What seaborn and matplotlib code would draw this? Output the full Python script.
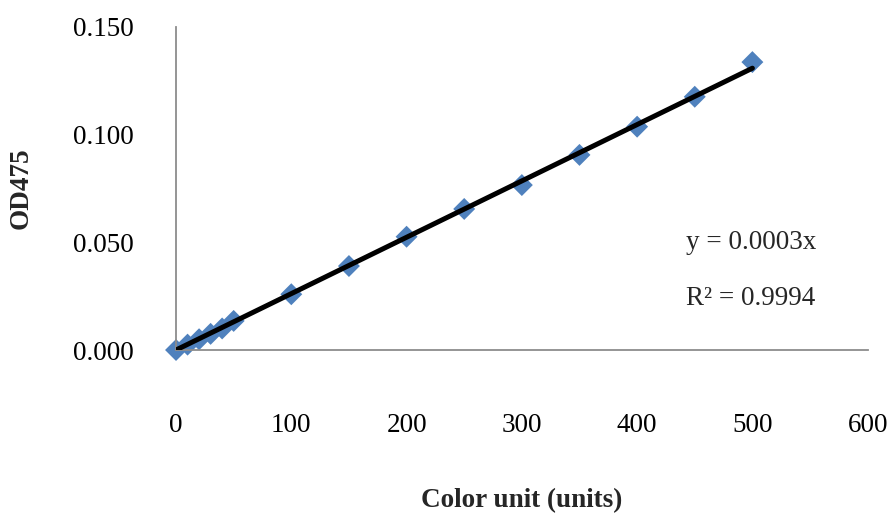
import numpy as np
import pandas as pd
import matplotlib
matplotlib.use("Agg")
import matplotlib.pyplot as plt
import seaborn as sns

# Data
color_units = [0, 10, 20, 30, 40, 50, 100, 150, 200, 250, 300, 350, 400, 450, 500]
od475 = [0.000, 0.0025, 0.005, 0.0075, 0.010, 0.0135, 0.0259, 0.0390, 0.0526,
         0.0655, 0.0766, 0.0906, 0.1037, 0.1176, 0.1337]
x_ticks = [0, 100, 200, 300, 400, 500, 600]
y_ticks = [0.000, 0.050, 0.100, 0.150]
eq_text = "y = 0.0003x"
r2_text = "R² = 0.9994"

sns.set_theme(style="white")
plt.rcParams['font.family'] = ['Liberation Serif', 'DejaVu Serif']

df = pd.DataFrame({"x": color_units, "y": od475})

# Linear trendline through origin (least squares)
xa = np.array(color_units, dtype=float)
ya = np.array(od475, dtype=float)
slope = (xa * ya).sum() / (xa * xa).sum()
trend = pd.DataFrame({"x": [0, max(color_units)], "y": [0, slope * max(color_units)]})

fig = plt.figure(figsize=(8.89, 5.16), dpi=100)
ax = fig.add_axes([0.198, 0.3217, 0.778, 0.626])

sns.scatterplot(data=df, x="x", y="y", marker="D", s=125, color="#4F81BD",
                edgecolor="none", ax=ax, zorder=2, clip_on=False)
sns.lineplot(data=trend, x="x", y="y", color="black", linewidth=3.6, ax=ax,
             zorder=3)

ax.set_xlim(0, 600)
ax.set_ylim(0, 0.150)
ax.set_xticks(x_ticks)
ax.set_yticks(y_ticks)
ax.set_xticklabels([str(t) for t in x_ticks])
ax.set_yticklabels([f"{t:.3f}" for t in y_ticks])

for s in ["top", "right"]:
    ax.spines[s].set_visible(False)
for s in ["left", "bottom"]:
    ax.spines[s].set_color("#8c8c8c")
    ax.spines[s].set_linewidth(1.3)

fs = 19.5
ax.tick_params(axis="both", which="major", direction="out", length=9.5,
               width=1.3, color="#8c8c8c", labelsize=fs, labelcolor="black")
ax.tick_params(axis="x", pad=36)
ax.tick_params(axis="y", pad=21)

ax.set_xlabel("Color unit (units)", fontsize=fs, fontweight="bold", labelpad=36)
ax.set_ylabel("OD475", fontsize=fs, fontweight="bold", labelpad=28)

ax.text(442, 0.050, eq_text, fontsize=fs, ha="left", va="center")
ax.text(442, 0.024, r2_text, fontsize=fs, ha="left", va="center")

fig.savefig("out.png", dpi=100)
